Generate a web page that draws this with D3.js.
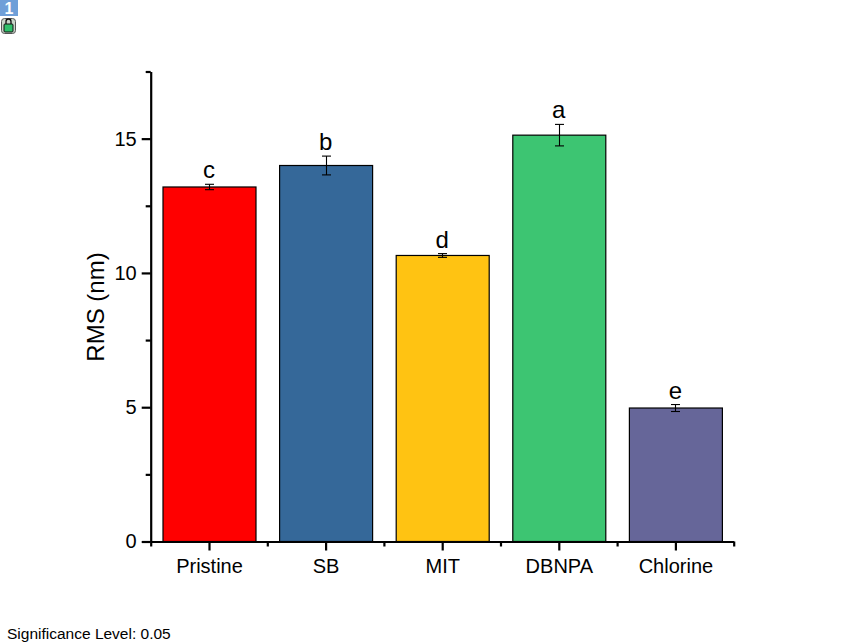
<!DOCTYPE html>
<html><head><meta charset="utf-8">
<script src="https://cdn.jsdelivr.net/npm/d3@7"></script>
<style>
html,body{margin:0;padding:0;background:#fff}
svg{display:block}
text{font-family:"Liberation Sans",Arial,sans-serif;fill:#000}
</style></head><body>
<svg id="c" width="843" height="644"></svg>
<script>
const categories = ["Pristine","SB","MIT","DBNPA","Chlorine"];
const values = [13.2,14.0,10.65,15.13,4.97];
const errors = [0.1,0.35,0.07,0.4,0.13];
const letters = ["c","b","d","a","e"];
const colors = ["#ff0000","#356899","#ffc312","#3dc572","#666699"];
const yMajor = [0,5,10,15];
const yMinor = [2.5,7.5,12.5,17.5];
const xMinor = [0.5,1.5,2.5,3.5,4.5,5.5];

const svg = d3.select("#c");
const x = d3.scaleLinear().domain([0.5,5.5]).range([150.7,733.7]);
const y = d3.scaleLinear().domain([0,17.5]).range([541.5,71.5]);
const barW = 93;

// bars
svg.append("g").selectAll("rect").data(values).join("rect")
  .attr("x",(d,i)=>x(i+1)-barW/2+0.5).attr("width",barW)
  .attr("y",d=>y(d)).attr("height",d=>y(0)-y(d))
  .attr("fill",(d,i)=>colors[i]).attr("stroke","#000").attr("stroke-width",1.2);

// error bars
const eb = svg.append("g").attr("stroke","#000").attr("stroke-width",1.1);
values.forEach((v,i)=>{
  const cx = Math.round(x(i+1))+0.5;
  eb.append("line").attr("x1",cx).attr("x2",cx).attr("y1",y(v+errors[i])).attr("y2",y(v-errors[i]));
  [v+errors[i],v-errors[i]].forEach(e=>{
    eb.append("line").attr("x1",cx-4.5).attr("x2",cx+4.5).attr("y1",y(e)).attr("y2",y(e));
  });
});

// significance letters
svg.append("g").selectAll("text").data(letters).join("text")
  .attr("x",(d,i)=>x(i+1)).attr("y",(d,i)=>y(values[i]+errors[i])-6)
  .attr("text-anchor","middle").attr("font-size",24).text(d=>d);

// axes
function style(g){
  g.selectAll(".domain").attr("stroke","#000").attr("stroke-width",2.2);
  g.selectAll(".tick line").attr("stroke","#000").attr("stroke-width",2.2);
  g.selectAll("text").attr("font-size",20).style("font-family",'"Liberation Sans",Arial,sans-serif');
}
const yAxis = svg.append("g").attr("transform","translate(150.7,0)")
  .call(d3.axisLeft(y).tickValues(yMajor).tickFormat(d3.format("d")).tickSize(9).tickSizeOuter(0).tickPadding(5));
style(yAxis);
svg.append("g").attr("transform","translate(150.7,0)")
  .call(d3.axisLeft(y).tickValues(yMinor).tickFormat("").tickSize(5).tickSizeOuter(0))
  .call(style).select(".domain").remove();

const xAxis = svg.append("g").attr("transform","translate(0,541.5)")
  .call(d3.axisBottom(x).tickValues([1,2,3,4,5]).tickFormat(d=>categories[d-1]).tickSize(9).tickSizeOuter(0).tickPadding(8));
style(xAxis);
svg.append("g").attr("transform","translate(0,541.5)")
  .call(d3.axisBottom(x).tickValues(xMinor).tickFormat("").tickSize(5).tickSizeOuter(0))
  .call(style).select(".domain").remove();

// axis title
svg.append("text").attr("transform","translate(103.5,307) rotate(-90)")
  .attr("text-anchor","middle").attr("font-size",24).text("RMS (nm)");

// note
svg.append("text").attr("x",7).attr("y",639).attr("font-size",15.5).text("Significance Level: 0.05");

// layer badge and lock
svg.append("rect").attr("x",0).attr("y",0).attr("width",18).attr("height",16).attr("fill","#6f9fd8");
svg.append("text").attr("x",9).attr("y",14).attr("text-anchor","middle").attr("font-size",16).attr("font-weight","bold").style("fill","#fff").text("1");
svg.append("rect").attr("x",1.5).attr("y",18.5).attr("width",14).attr("height",15).attr("rx",3).attr("fill","#c8d4c8").attr("stroke","#555");
svg.append("rect").attr("x",4).attr("y",24).attr("width",9).attr("height",8).attr("rx",1).attr("fill","#2fc06a").attr("stroke","#111");
svg.append("path").attr("d","M6 24v-2.5a2.5 2.5 0 0 1 5 0V24").attr("fill","none").attr("stroke","#111").attr("stroke-width",1.3);
</script>
</body></html>
